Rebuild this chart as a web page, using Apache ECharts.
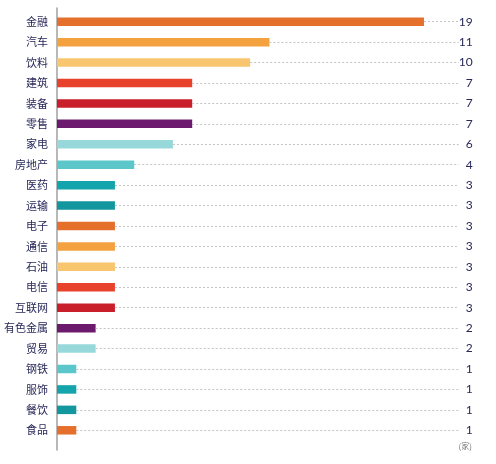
<!DOCTYPE html>
<html>
<head>
<meta charset="utf-8">
<script src="https://cdn.jsdelivr.net/npm/echarts@6/dist/echarts.min.js"></script>
<style>
  html, body { margin: 0; padding: 0; background: #fff; }
  #main { width: 496px; height: 464px; }
</style>
</head>
<body>
<div id="main"></div>
<script>
// 行业分布（家）
var categories = ['金融', '汽车', '饮料', '建筑', '装备', '零售', '家电', '房地产', '医药', '运输',
    '电子', '通信', '石油', '电信', '互联网', '有色金属', '贸易', '钢铁', '服饰', '餐饮', '食品'];
var values = [19, 11, 10, 7, 7, 7, 6, 4, 3, 3, 3, 3, 3, 3, 3, 2, 2, 1, 1, 1, 1];
var palette = ['#e4702c', '#f3a23f', '#f8c66f', '#e8412c', '#c81f2b',
    '#6b1a6e', '#97d8da', '#5cc7cb', '#14a4ab', '#12979f'];

var LINE_END = 20.8;
var navy = '#28285a';

var myChart = echarts.init(document.getElementById('main'));

var barData = values.map(function (v, i) {
    return { value: v, itemStyle: { color: palette[i % palette.length] } };
});

var guideLines = values.map(function (v, i) {
    return [{ coord: [v, categories[i]] }, { coord: [LINE_END, categories[i]] }];
});

myChart.setOption({
    animation: false,
    grid: [
        { left: 57, right: 33.4, top: 11.5, height: 429 },
        { left: 57, right: 33.4, top: 8, bottom: 14 }
    ],
    xAxis: [
        { type: 'value', gridIndex: 0, min: 0, max: 21, show: false },
        { type: 'value', gridIndex: 1, min: 0, max: 21, show: false }
    ],
    yAxis: [
        {
            type: 'category', gridIndex: 0, data: categories, inverse: true,
            axisLine: { show: false }, axisTick: { show: false },
            axisLabel: { color: navy, fontSize: 11, margin: 9, fontFamily: 'Noto Sans CJK SC' }
        },
        {
            type: 'category', gridIndex: 0, position: 'right', data: values.map(String), inverse: true,
            axisLine: { show: false }, axisTick: { show: false },
            axisLabel: { color: navy, fontSize: 12, margin: 10, align: 'right', fontFamily: 'Lato' }
        },
        {
            type: 'value', gridIndex: 1, min: 0, max: 1,
            axisLine: { show: true, lineStyle: { color: '#a0a0a0', width: 1.5 } },
            axisTick: { show: false }, axisLabel: { show: false }, splitLine: { show: false }
        }
    ],
    series: [{
        type: 'bar',
        xAxisIndex: 0,
        yAxisIndex: 0,
        data: barData,
        barWidth: 8.5,
        markLine: {
            silent: true,
            symbol: 'none',
            label: { show: false },
            lineStyle: { color: '#c4c4c4', type: [2, 2], width: 1 },
            data: guideLines
        }
    }],
    graphic: [{
        type: 'text',
        right: 24,
        top: 442,
        style: { text: '(家)', fill: '#777', fontSize: 8, fontFamily: 'Noto Sans CJK SC' }
    }]
});
</script>
</body>
</html>
